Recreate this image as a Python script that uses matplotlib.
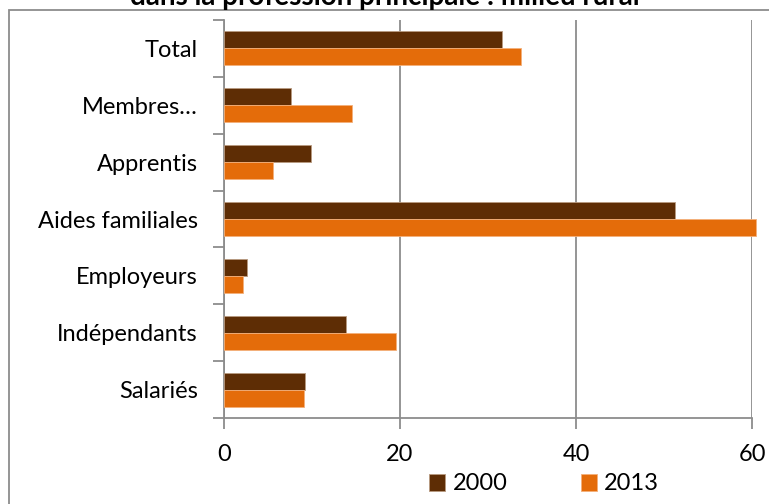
import matplotlib.pyplot as plt
import matplotlib.patches as mpatches
import numpy as np

# categories from bottom to top
categories = ["Salariés", "Indépendants", "Employeurs", "Aides familiales",
              "Apprentis", "Membres…", "Total"]
vals_2000 = [9.2, 13.9, 2.6, 51.2, 9.9, 7.6, 31.6]
vals_2013 = [9.1, 19.5, 2.15, 60.4, 5.6, 14.6, 33.8]
years = ["2000", "2013"]
xticks = [0, 20, 40, 60]

plt.rcParams['font.family'] = ['Lato', 'DejaVu Sans']

fig = plt.figure(figsize=(7.69, 5.04), dpi=100)
ax = fig.add_axes([224/769, 86/504, 528/769, 398/504])

y = np.arange(len(categories))
h = 0.3
ax.barh(y + h/2, vals_2000, height=h, color="#5E2D05", edgecolor="#b89a80",
        linewidth=0.6, label=years[0], zorder=3, clip_on=False)
ax.barh(y - h/2, vals_2013, height=h, color="#E46C0A", edgecolor="#f4b07a",
        linewidth=0.6, label=years[1], zorder=3, clip_on=False)

ax.set_xlim(0, 60)
ax.set_ylim(-0.5, len(categories) - 0.5)
ax.set_xticks(xticks)
ax.set_xticklabels([str(t) for t in xticks], fontsize=17)
ax.set_yticks(y)
ax.set_yticklabels(categories, fontsize=17)
ax.set_yticks(np.arange(-0.5, len(categories)), minor=True)

ax.grid(axis="x", color="#8c8c8c", linewidth=1.3, zorder=0)
for s in ["top", "right"]:
    ax.spines[s].set_visible(False)
for s in ["left", "bottom"]:
    ax.spines[s].set_color("#8c8c8c")
    ax.spines[s].set_linewidth(1.3)

ax.tick_params(axis="y", which="major", length=0, pad=19)
ax.tick_params(axis="y", which="minor", length=8, width=1.3, color="#8c8c8c")
ax.tick_params(axis="x", length=8, width=1.3, color="#8c8c8c", pad=11)

# outer chart frame (extends past right and bottom edges)
frame = mpatches.Rectangle((9/769, -0.1), 1.2, 1 - 10/504 + 0.1,
                           transform=fig.transFigure, fill=False,
                           edgecolor="#8c8c8c", linewidth=1.3, clip_on=False)
fig.patches.append(frame)

fig.text(0.5, 1 - 5/504, "dans la profession principale : milieu rural",
         ha="center", va="baseline", fontsize=20, fontweight="bold")

fig.legend(loc="center", bbox_to_anchor=(544/769, 1 - 484/504), ncol=2,
           frameon=False, fontsize=17, handlelength=0.7, handleheight=0.7,
           columnspacing=3.1, handletextpad=0.3)

fig.savefig("out.png", dpi=100)
